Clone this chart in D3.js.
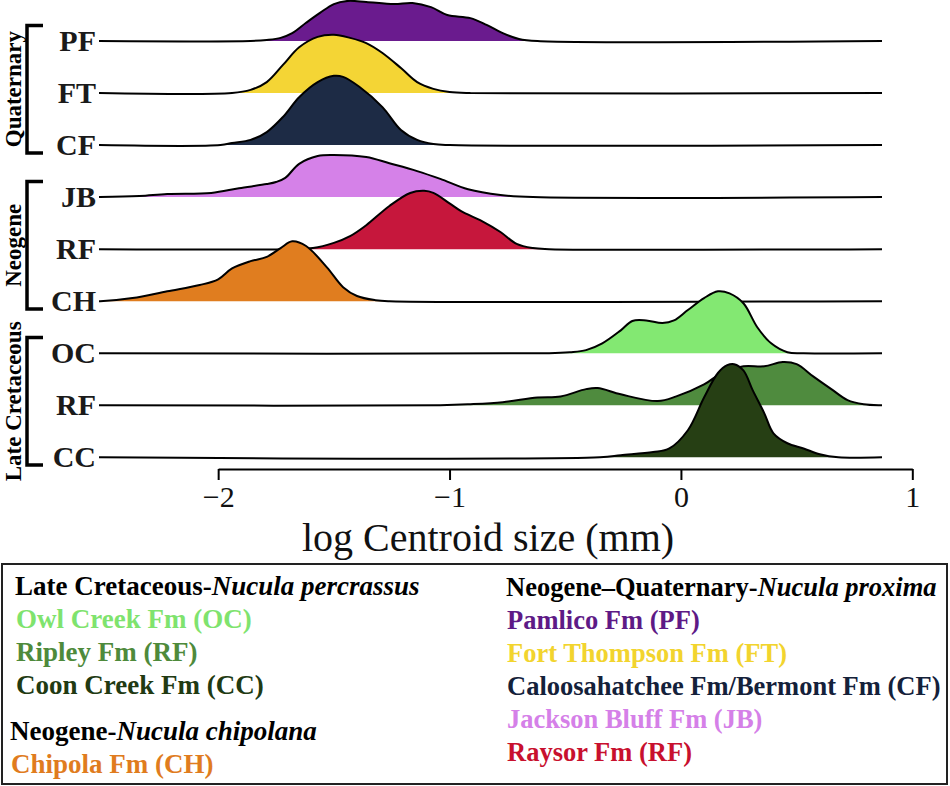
<!DOCTYPE html>
<html>
<head>
<meta charset="utf-8">
<script src="https://cdn.jsdelivr.net/npm/d3@7"></script>
<style>
	body { margin: 0; background: #fff; }
	svg { display: block; font-family: 'Liberation Serif', 'Times New Roman', serif; }
</style>
</head>
<body>
<script>
// rows, top to bottom
const rowIds = ['PF', 'FT', 'CF', 'JB', 'RFn', 'CH', 'OC', 'RFk', 'CC'];
const rowLabels = ['PF', 'FT', 'CF', 'JB', 'RF', 'CH', 'OC', 'RF', 'CC'];
const rowColors = ['#6a1b8e', '#f4d535', '#1d2b45', '#d581e8', '#c6173c', '#e07d1f', '#83e872', '#4f8b3e', '#263f14'];
const legendColors = ['#5e1a86', '#f2d42e', '#14213a', '#d580e8', '#c8102e', '#e07c1e', '#7fe36e', '#4e8a3b', '#213a12'];

// density of log centroid size, [x, density] (density in row heights)
const pfDensity = [[-1.86, 0], [-1.79, .02], [-1.73, .06], [-1.68, .15], [-1.62, .35], [-1.56, .54], [-1.50, .71], [-1.44, .77], [-1.36, .75], [-1.24, .71], [-1.16, .73], [-1.08, .65], [-1.01, .50], [-0.91, .44], [-0.84, .31], [-0.77, .15], [-0.70, .04], [-0.62, 0]];
const ftDensity = [[-1.94, 0], [-1.86, .06], [-1.79, .21], [-1.72, .54], [-1.65, .88], [-1.57, 1.08], [-1.50, 1.12], [-1.43, 1.06], [-1.36, .96], [-1.29, .77], [-1.21, .48], [-1.14, .21], [-1.07, .08], [-1.00, .02], [-0.91, 0]];
const cfDensity = [[-1.99, 0], [-1.94, .04], [-1.86, .10], [-1.79, .25], [-1.72, .54], [-1.65, .92], [-1.57, 1.21], [-1.50, 1.33], [-1.46, 1.31], [-1.39, 1.12], [-1.29, .73], [-1.21, .29], [-1.14, .10], [-1.07, .02], [-1.00, 0]];
const jbDensity = [[-2.51, 0], [-2.34, .02], [-2.22, .06], [-2.03, .08], [-1.91, .17], [-1.79, .25], [-1.75, .29], [-1.71, .37], [-1.65, .64], [-1.57, .79], [-1.50, .81], [-1.36, .77], [-1.26, .65], [-1.14, .50], [-1.04, .35], [-0.92, .15], [-0.78, .04], [-0.64, 0]];
const raysorDensity = [[-1.69, 0], [-1.59, .02], [-1.50, .12], [-1.43, .25], [-1.36, .46], [-1.26, .83], [-1.17, 1.08], [-1.11, 1.12], [-1.07, 1.08], [-1.00, .88], [-0.95, .73], [-0.86, .54], [-0.78, .33], [-0.71, .10], [-0.64, .02], [-0.57, 0]];
const chDensity = [[-2.51, 0], [-2.37, .06], [-2.22, .19], [-2.08, .31], [-2.00, .42], [-1.94, .63], [-1.86, .77], [-1.79, .85], [-1.73, 1.02], [-1.68, 1.15], [-1.62, 1.06], [-1.53, .65], [-1.46, .27], [-1.40, .10], [-1.32, .02], [-1.26, 0]];
const ocDensity = [[-0.57, 0], [-0.48, .02], [-0.41, .06], [-0.34, .19], [-0.26, .44], [-0.21, .62], [-0.15, .63], [-0.08, .58], [-0.03, .63], [0.03, .83], [0.10, 1.06], [0.16, 1.19], [0.21, 1.15], [0.27, .96], [0.33, .50], [0.39, .19], [0.46, .02], [0.53, 0]];
const ripleyDensity = [[-1.04, 0], [-0.91, .02], [-0.77, .06], [-0.62, .15], [-0.52, .17], [-0.41, .31], [-0.36, .33], [-0.26, .21], [-0.10, .08], [-0.02, .17], [0.10, .40], [0.18, .63], [0.27, .75], [0.36, .75], [0.44, .83], [0.50, .79], [0.57, .56], [0.65, .31], [0.72, .10], [0.79, .02], [0.86, 0]];
const ccDensity = [[-0.35, 0], [-0.26, .04], [-0.12, .10], [-0.05, .17], [0.03, .52], [0.10, 1.15], [0.16, 1.62], [0.20, 1.77], [0.23, 1.79], [0.27, 1.67], [0.31, 1.29], [0.36, .85], [0.40, .46], [0.46, .27], [0.53, .17], [0.60, .06], [0.68, 0]];
const densities = [pfDensity, ftDensity, cfDensity, jbDensity, raysorDensity, chDensity, ocDensity, ripleyDensity, ccDensity];

const xDomain = [-2.515, 0.869];
const xTicks = [-2, -1, 0, 1];
const xTitle = 'log Centroid size (mm)';

const groupNames = ['Quaternary', 'Neogene', 'Late Cretaceous'];
const groupRows = [[0, 2], [3, 5], [6, 8]];

const legendHeads = ['Late Cretaceous-', 'Neogene-', 'Neogene\u2013Quaternary-'];
const legendSpecies = ['Nucula percrassus', 'Nucula chipolana', 'Nucula proxima'];
const legendItems = [
	['Owl Creek Fm (OC)', 'Ripley Fm (RF)', 'Coon Creek Fm (CC)'],
	['Chipola Fm (CH)'],
	['Pamlico Fm (PF)', 'Fort Thompson Fm (FT)', 'Caloosahatchee Fm/Bermont Fm (CF)', 'Jackson Bluff Fm (JB)', 'Raysor Fm (RF)']
];
const legendItemRows = [[6, 7, 8], [5], [0, 1, 2, 3, 4]];

const width = 950, height = 786;

const svg = d3.select('body').append('svg')
	.attr('width', width)
	.attr('height', height);

const x = d3.scaleLinear().domain(xDomain).range([99, 882]);
const y = d3.scalePoint().domain(rowIds).range([41, 457.3]);
const step = y.step();
const h = d3.scaleLinear().domain([0, 1]).range([0, step]);

const curve = d3.curveCatmullRom.alpha(0.5);

const area = d3.area()
	.curve(curve)
	.x(d => x(d[0]))
	.y0(0)
	.y1(d => -h(d[1]));

const line = d3.line()
	.curve(curve)
	.x(d => x(d[0]))
	.y(d => -h(d[1]));

// ridges, back to front
const ridges = svg.append('g')
	.selectAll('g')
	.data(rowIds)
	.join('g')
	.attr('transform', id => `translate(0,${y(id)})`);

ridges.append('path')
	.attr('fill', (id, i) => rowColors[i])
	.attr('d', (id, i) => area(densities[i]));

ridges.append('path')
	.attr('fill', 'none')
	.attr('stroke', '#000')
	.attr('stroke-width', 2)
	.attr('stroke-linejoin', 'round')
	.attr('d', (id, i) => {
		let pts = densities[i].slice();
		if (pts[0][0] > xDomain[0]) pts.unshift([xDomain[0], 0]);
		if (pts[pts.length - 1][0] < xDomain[1]) pts.push([xDomain[1], 0]);
		return line(pts);
	});

// row labels
svg.append('g')
	.selectAll('text')
	.data(rowIds)
	.join('text')
	.attr('x', 96)
	.attr('y', id => y(id) + 10)
	.attr('text-anchor', 'end')
	.attr('font-size', 30)
	.attr('font-weight', 'bold')
	.attr('fill', '#1a1a1a')
	.text((id, i) => rowLabels[i]);

// period brackets
const brackets = svg.append('g')
	.selectAll('g')
	.data(groupNames)
	.join('g');

const bTop = (d, i) => y(rowIds[groupRows[i][0]]) - step * 0.3;
const bBot = (d, i) => y(rowIds[groupRows[i][1]]) + step * 0.15;

brackets.append('path')
	.attr('fill', 'none')
	.attr('stroke', '#000')
	.attr('stroke-width', 3.5)
	.attr('d', (d, i) => `M43,${bTop(d, i)}H27V${bBot(d, i)}H43`);

brackets.append('text')
	.attr('transform', (d, i) => `translate(21,${(bTop(d, i) + bBot(d, i)) / 2}) rotate(-90)`)
	.attr('text-anchor', 'middle')
	.attr('font-size', 23)
	.attr('font-weight', 'bold')
	.text(d => d);

// x axis
const xAxisScale = d3.scaleLinear().domain([-2, 1]).range([x(-2), x(1)]);
const axis = svg.append('g')
	.attr('transform', 'translate(0,469)')
	.call(d3.axisBottom(xAxisScale)
		.tickValues(xTicks)
		.tickFormat(d3.format('d'))
		.tickSize(11)
		.tickSizeOuter(0)
		.tickPadding(6));

axis.select('.domain').attr('stroke', '#000').attr('stroke-width', 2);
axis.selectAll('.tick line').attr('stroke', '#000').attr('stroke-width', 2);
axis.selectAll('.tick text')
	.attr('font-family', "'Liberation Serif', serif")
	.attr('font-size', 30)
	.attr('fill', '#111');

svg.append('text')
	.attr('x', 488)
	.attr('y', 551)
	.attr('text-anchor', 'middle')
	.attr('font-size', 40)
	.attr('fill', '#111')
	.text(xTitle);

// legend box
svg.append('rect')
	.attr('x', 2)
	.attr('y', 564)
	.attr('width', 945)
	.attr('height', 220)
	.attr('fill', 'none')
	.attr('stroke', '#222')
	.attr('stroke-width', 2);

const legendCols = [15, 10, 506];
const legendSizes = [27, 27, 26.5];
const lineH = 33;
let colY = [595, 740, 596];

legendHeads.forEach((head, gi) => {
	let lx = legendCols[gi];
	let ly = colY[gi];
	let t = svg.append('text')
		.attr('x', lx)
		.attr('y', ly)
		.attr('font-size', legendSizes[gi])
		.attr('font-weight', 'bold')
		.attr('fill', '#000');
	t.append('tspan').text(head);
	t.append('tspan').attr('font-style', 'italic').text(legendSpecies[gi]);

	legendItems[gi].forEach((item, k) => {
		ly += lineH;
		svg.append('text')
			.attr('x', lx + 1)
			.attr('y', ly)
			.attr('font-size', legendSizes[gi])
			.attr('font-weight', 'bold')
			.attr('fill', legendColors[legendItemRows[gi][k]])
			.text(item);
	});
});
</script>
</body>
</html>
